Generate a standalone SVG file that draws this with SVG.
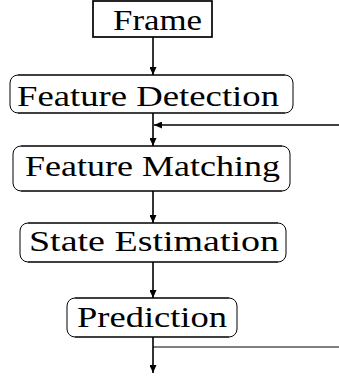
<svg xmlns="http://www.w3.org/2000/svg" width="339" height="382" viewBox="0 0 339 382">
<style>
.h{stroke:#000;stroke-width:1.7;fill:none}
.s{stroke:#000;stroke-width:1;fill:none}
.c{stroke:#000;stroke-width:1.6;fill:none}
.t{stroke:#000;stroke-width:1;fill:none}
.lbl{font-size:30px;fill:#000}
</style>
<defs>
<marker id="ah" markerUnits="userSpaceOnUse" markerWidth="8" markerHeight="7" refX="8" refY="3.5" orient="auto">
<path d="M0,0 L8,3.5 L0,7 z" fill="#000"/>
</marker>
</defs>
<rect width="339" height="382" fill="#fff"/>
<g font-family="'Liberation Serif', 'DejaVu Serif', serif">
<g id="frame">
<rect class="h" x="93" y="1" width="119" height="36"/>
<text class="lbl" x="113" y="30" textLength="89" lengthAdjust="spacingAndGlyphs">Frame</text>
</g>
<g id="feature-detection">
<path class="h" d="M18,75 H285 M18,113 H285"/>
<path class="s" d="M18,75 A8,8 0 0 0 10,83 V105 A8,8 0 0 0 18,113 M285,75 A8,8 0 0 1 293,83 V105 A8,8 0 0 1 285,113"/>
<text class="lbl" x="17" y="106" textLength="262" lengthAdjust="spacingAndGlyphs">Feature Detection</text>
</g>
<g id="feature-matching">
<path class="h" d="M21,146 H282 M21,191 H282"/>
<path class="s" d="M21,146 A8,8 0 0 0 13,154 V183 A8,8 0 0 0 21,191 M282,146 A8,8 0 0 1 290,154 V183 A8,8 0 0 1 282,191"/>
<text class="lbl" x="25" y="176" textLength="255" lengthAdjust="spacingAndGlyphs">Feature Matching</text>
</g>
<g id="state-estimation">
<path class="h" d="M28,223 H278 M28,262 H278"/>
<path class="s" d="M28,223 A8,8 0 0 0 20,231 V254 A8,8 0 0 0 28,262 M278,223 A8,8 0 0 1 286,231 V254 A8,8 0 0 1 278,262"/>
<text class="lbl" x="29" y="251" textLength="250" lengthAdjust="spacingAndGlyphs">State Estimation</text>
</g>
<g id="prediction">
<path class="h" d="M75,298 H229 M75,337 H229"/>
<path class="s" d="M75,298 A8,8 0 0 0 67,306 V329 A8,8 0 0 0 75,337 M229,298 A8,8 0 0 1 237,306 V329 A8,8 0 0 1 229,337"/>
<text class="lbl" x="77" y="327" textLength="150" lengthAdjust="spacingAndGlyphs">Prediction</text>
</g>
</g>
<g id="connectors">
<line class="c" x1="153" y1="37" x2="153" y2="75" marker-end="url(#ah)"/>
<line class="c" x1="153" y1="113" x2="153" y2="146" marker-end="url(#ah)"/>
<line class="c" x1="339" y1="125" x2="154" y2="125" marker-end="url(#ah)"/>
<line class="c" x1="153" y1="191" x2="153" y2="223" marker-end="url(#ah)"/>
<line class="c" x1="153" y1="262" x2="153" y2="298" marker-end="url(#ah)"/>
<line class="c" x1="153" y1="337" x2="153" y2="373" marker-end="url(#ah)"/>
<line class="t" x1="153" y1="347" x2="339" y2="347"/>
</g>
</svg>
